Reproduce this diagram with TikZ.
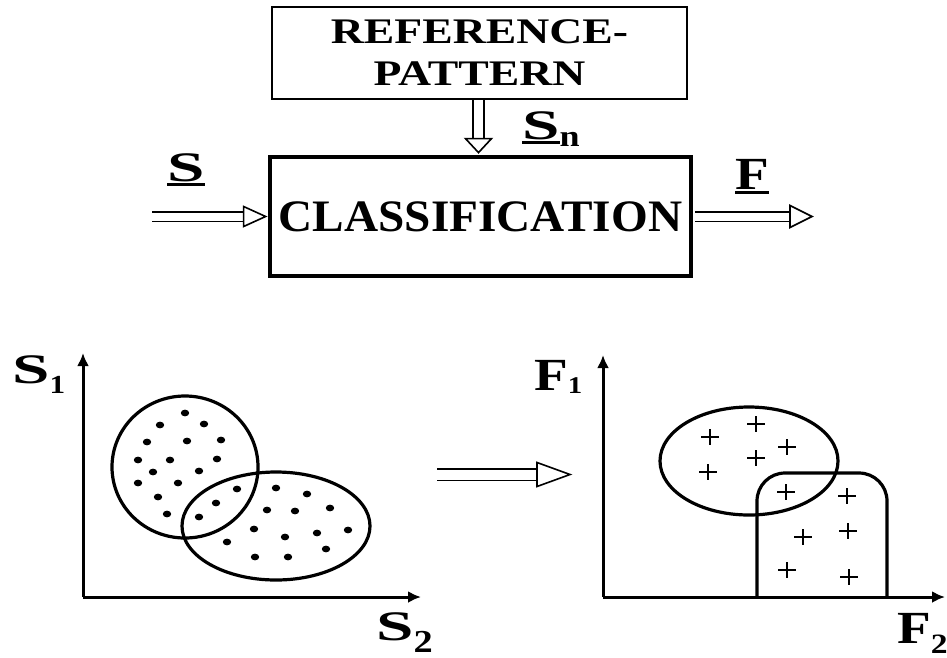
\documentclass[tikz,border=0pt]{standalone}
\usepackage{fontspec}
\setmainfont{Liberation Serif}
\newfontfamily\boxfont[FakeStretch=1.27]{Liberation Serif}
\newfontfamily\clsfont[FakeStretch=1.05]{Liberation Serif}
\newfontfamily\lblSfont[FakeStretch=1.6]{Liberation Serif}
\newfontfamily\lblFfont[FakeStretch=1.2]{Liberation Serif}
\usetikzlibrary{arrows.meta,calc}
\newcommand\myul[1]{\setbox0\hbox{#1}\rlap{\rule[-5pt]{\wd0}{2.6pt}}\box0}
\newcommand\mysub[3]{\raisebox{-#1pt}{\lblFfont\bfseries\fontsize{#2}{#2}\selectfont #3}}
\begin{document}
\begin{tikzpicture}[x=1pt,y=-1pt,
  box/.style={draw, line width=2.8pt, inner sep=0pt},
  shaft/.style={double, double distance=8pt, line width=1.6pt},
  head/.style={draw, line width=1.6pt, fill=white},
  axis/.style={line width=3pt, -{Latex[length=13pt,width=12pt]}},
  curve/.style={line width=3.2pt},
  plus/.style={line width=2.8pt},
  lblS/.style={font=\lblSfont\bfseries\fontsize{42}{42}\selectfont, inner sep=0pt, anchor=base west},
  lblF/.style={font=\lblFfont\bfseries\fontsize{46}{46}\selectfont, inner sep=0pt, anchor=base west},
]
\useasboundingbox (0,0) rectangle (947,657);

% --- block diagram ---
\node[box, minimum width=415pt, minimum height=92pt, align=center,
      font=\boxfont\bfseries\fontsize{36}{42}\selectfont] (ref) at (479.5,53) {REFERENCE-\\PATTERN};
\node[box, line width=4.8pt, minimum width=421pt, minimum height=119pt,
      font=\clsfont\bfseries\fontsize{45}{45}\selectfont] (cls) at (480.5,216.5) {CLASSIFICATION};

% input arrow S
\coordinate (sIn) at (152,216.5);
\coordinate (tipIn) at ($(cls.west)+(-2,0)$);
\draw[shaft] (sIn) -- ($(tipIn)+(-22,0)$);
\draw[head] (tipIn) -- ++(-22,-10) -- ++(0,20) -- cycle;
\node[lblS] (lS) at (167,181) {\myul{S}};

% output arrow F
\coordinate (fOut) at (812,216.5);
\draw[shaft] ($(cls.east)+(2,0)$) -- ($(fOut)+(-22,0)$);
\draw[head] (fOut) -- ++(-22,-11) -- ++(0,22) -- cycle;
\node[lblF] (lF) at (735,189) {\myul{F}};

% reference arrow Sn
\coordinate (tipSn) at ($(cls.north)+(-2,-2)$);
\draw[shaft, double distance=9pt] (ref.south -| tipSn) -- ($(tipSn)+(0,-14)$);
\draw[head] (tipSn) -- ++(-13,-14) -- ++(26,0) -- cycle;
\node[lblS] (lSn) at (522,139) {\myul{S}\mysub{7}{30}{n}};

% --- left plot ---
\coordinate (o1) at (83,597);
\coordinate (y1) at (83,353);
\coordinate (x1) at (421,597);
\draw[axis] (o1) -- (y1);
\draw[axis] (o1) -- (x1);
\node[lblS] (lS1) at (12,383) {S\mysub{10}{26}{1}};
\node[lblS] (lS2) at (376,640) {S\mysub{12}{32}{2}};

\draw[curve] (185,467) ellipse [x radius=73pt, y radius=71pt];
\draw[curve] (276,526) ellipse [x radius=94pt, y radius=54pt];
\foreach \x/\y in {185/413,160/425,204/424,147/442,187/441,221/440,138/460,170/460,
  217/459,153/472,199/471,138/483,178/483,158/497,237/489,167/514,216/503,199/517,
  276/488,307/494,330/508,267/510,295/511,254/529,285/537,317/533,348/530,227/542,
  326/549,255/557,288/557}
  \fill (\x,\y) ellipse [x radius=4.2pt, y radius=3.4pt];

% transformation arrow
\coordinate (m1) at (437,474.5);
\coordinate (m2) at (570,474.5);
\draw[shaft, double distance=10pt] (m1) -- ($(m2)+(-33,0)$);
\draw[head] (m2) -- ++(-33,-12) -- ++(0,24) -- cycle;

% --- right plot ---
\coordinate (o2) at (603,597);
\coordinate (y2) at (603,355);
\coordinate (x2) at (945,597);
\draw[axis] (o2) -- (y2);
\draw[axis] (o2) -- (x2);
\node[lblF] (lF1) at (534,390) {F\mysub{3}{24}{1}};
\node[lblF] (lF2) at (897,643) {F\mysub{10}{28}{2}};

\draw[curve] (749,461) ellipse [x radius=89pt, y radius=54pt];
\draw[curve, rounded corners=28pt] (757,597) -- (757,473) -- (887,473) -- (887,597);
\foreach \x/\y in {756/424,710/437,787/447,756/458,708/472,786/492,847/496,
  848/531,803/537,787/570,849/577}
  \draw[plus] (\x-9,\y) -- (\x+9,\y) (\x,\y-8) -- (\x,\y+8);
\end{tikzpicture}
\end{document}
